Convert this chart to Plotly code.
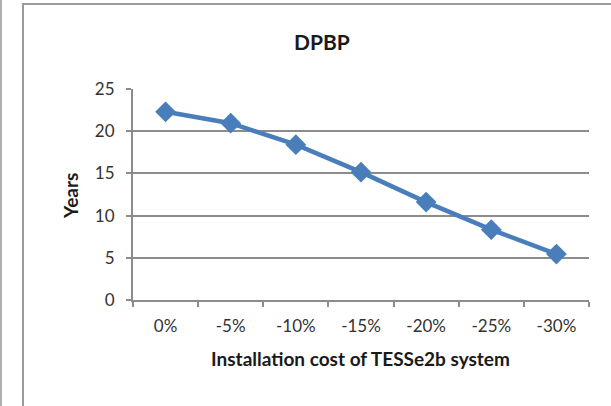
import plotly.graph_objs as go

# installation cost reduction vs discounted payback period
cost_cut = ['0%', '-5%', '-10%', '-15%', '-20%', '-25%', '-30%']
dpbp_years = [22.3, 20.95, 18.4, 15.15, 11.6, 8.33, 5.44]

font_name = 'Lato'
grid_col = '#8c8c8c'

trace = go.Scatter(
	x=cost_cut,
	y=dpbp_years,
	mode='lines+markers',
	line=dict(color='#4a7ebb', width=4.5),
	marker=dict(symbol='diamond', size=16, color='#4a7ebb'),
	showlegend=False
)

fig = go.Figure(trace)

def px_x(p):
	return (p - 133) / 456

def px_y(p):
	return (300 - p) / 211

# outer frame + left edge line (paper coords reach outside the plot area)
frame = [
	dict(type='rect', xref='paper', yref='paper', x0=px_x(23), x1=px_x(640), y0=px_y(430), y1=px_y(4),
		line=dict(color='#9a9a9a', width=2), fillcolor='rgba(0,0,0,0)', layer='below'),
	dict(type='line', xref='paper', yref='paper', x0=px_x(1), x1=px_x(1), y0=px_y(430), y1=px_y(-10),
		line=dict(color='#b0b0b0', width=2)),
]

def label(text, x, y, size, angle=0):
	return dict(text=text, xref='paper', yref='paper', x=px_x(x), y=px_y(y),
		xanchor='center', yanchor='middle', textangle=angle, showarrow=False,
		font=dict(size=size, color='#1a1a1a'))

fig.update_layout(
	width=611, height=406,
	margin=dict(l=133, r=22, t=89, b=106),
	paper_bgcolor='white', plot_bgcolor='white',
	font=dict(family=font_name, size=17, color='#222222'),
	shapes=frame,
	annotations=[
		label('<b>DPBP</b>', 322, 41, 21),
		label('<b>Installation cost of TESSe2b system</b>', 360, 358, 19),
		label('<b>Years</b>', 70, 196, 19, -90),
	],
	xaxis=dict(
		type='category', range=[-0.5, 6.5], tickson='boundaries',
		showline=True, linecolor=grid_col, linewidth=2,
		ticks='outside', ticklen=5, tickcolor=grid_col, tickwidth=2,
		ticklabelstandoff=10,
		showgrid=False, tickfont=dict(size=17, color='#333333'),
	),
	yaxis=dict(
		range=[0, 25], dtick=5, showgrid=True, gridcolor=grid_col, gridwidth=1.5,
		showline=True, linecolor=grid_col, linewidth=2, zeroline=False,
		ticks='outside', ticklen=5, tickcolor=grid_col, tickwidth=2,
		ticklabelstandoff=8,
		tickfont=dict(size=17, color='#333333'),
	),
)

fig.write_html("out.html", config={'displayModeBar': False},
	post_script="document.body.style.margin='0px';")
